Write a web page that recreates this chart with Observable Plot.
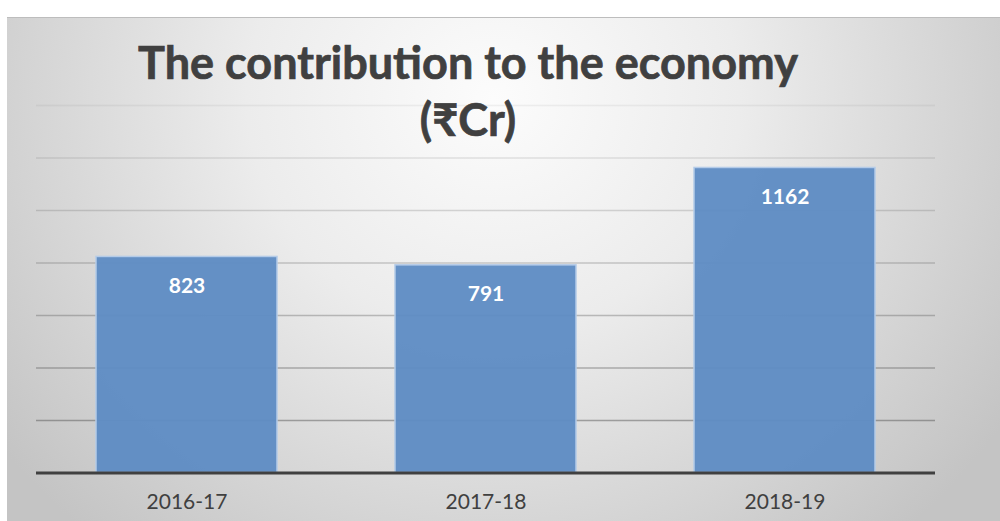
<!DOCTYPE html>
<html>
<head>
<meta charset="utf-8">
<script src="https://cdn.jsdelivr.net/npm/d3@7"></script>
<script src="https://cdn.jsdelivr.net/npm/@observablehq/plot@0.6"></script>
<style>
  html, body { margin: 0; padding: 0; background: #fff; }
  #wrap { position: relative; width: 1000px; height: 521px; overflow: hidden; background: #fff; }
  #bg { position: absolute; left: 7px; top: 17px; width: 993px; height: 504px;
        border-top: 1.5px solid #bdbdbd;
        background: radial-gradient(ellipse 62% 115% at 49% 16%, #fcfcfc 0%, #ececec 40%, #c4c4c4 100%); }
  #title { position: absolute; left: 68px; width: 800px; top: 34px; text-align: center;
           font-family: Lato, "Noto Sans", sans-serif; font-weight: bold; font-size: 45px;
           line-height: 57px; color: #404040; -webkit-text-stroke: 0.7px #404040; }
  #chart { position: absolute; left: 0; top: 0; }
</style>
</head>
<body>
<div id="wrap">
  <div id="bg"></div>
  <div id="chart"></div>
  <div id="title">The contribution to the economy<br>(₹Cr)</div>
</div>
<script>
const years = ["2016-17", "2017-18", "2018-19"];
const values = [823, 791, 1162];
const gridTicks = [200, 400, 600, 800, 1000, 1200, 1400];

const data = years.map((y, i) => ({year: y, value: values[i]}));
const font = 'Lato, "Noto Sans", sans-serif';

const gridMarks = gridTicks.map(t => Plot.ruleY([t], {
  stroke: "#555",
  strokeOpacity: 0.55 - (t / 1400) * 0.47,
  strokeWidth: 1.3
}));

const chart = Plot.plot({
  width: 1000,
  height: 521,
  marginTop: 105,
  marginBottom: 48.5,
  marginLeft: 36,
  marginRight: 65,
  style: {background: "transparent", fontFamily: font},
  x: {domain: years, paddingInner: 0.393, paddingOuter: 0.197, label: null},
  y: {domain: [0, 1400], axis: null},
  marks: [
    ...gridMarks,
    Plot.barY(data, {x: "year", y: "value", fill: "#5f8cc4", fillOpacity: 0.96,
                     stroke: "#b4cbe8", strokeWidth: 1.5}),
    Plot.ruleY([0], {stroke: "#404040", strokeWidth: 3.2}),
    Plot.text(data, {x: "year", y: "value", text: d => String(d.value), dy: 29,
                     fill: "white", fontSize: 21, fontWeight: "bold", lineAnchor: "middle"}),
    Plot.axisX({tickSize: 0, tickPadding: 21, fontSize: 21, color: "#404040", label: null})
  ]
});
document.getElementById("chart").appendChild(chart);
</script>
</body>
</html>
